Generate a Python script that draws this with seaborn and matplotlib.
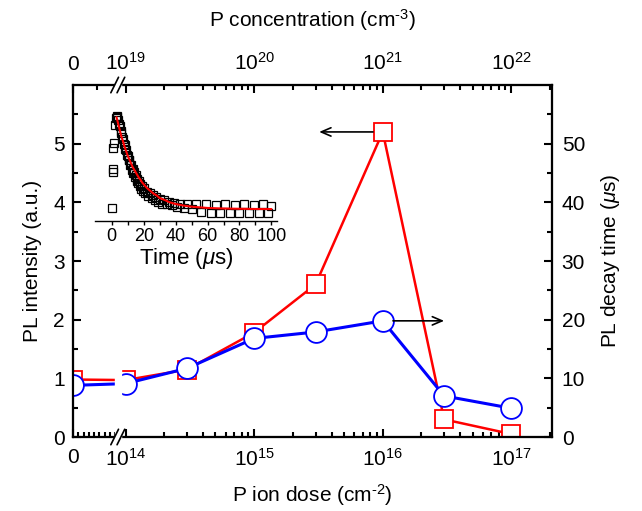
import matplotlib
matplotlib.use("Agg")
import matplotlib.pyplot as plt
import numpy as np
import pandas as pd
import seaborn as sns
from matplotlib.ticker import FixedLocator
from matplotlib.patches import Rectangle

# main chart data
dose = [0, 1e14, 3e14, 1e15, 3e15, 1e16, 3e16, 1e17]
pl_intensity = [0.98, 0.97, 1.15, 1.78, 2.60, 5.20, 0.30, 0.05]
decay_time = [8.8, 9.1, 11.7, 16.8, 17.9, 19.8, 7.0, 4.9]

dose_ticks = [0, 1e14, 1e15, 1e16, 1e17]
dose_labels = ["0", "$10^{14}$", "$10^{15}$", "$10^{16}$", "$10^{17}$"]
conc_ticks = [0, 1e19, 1e20, 1e21, 1e22]
conc_labels = ["0", "$10^{19}$", "$10^{20}$", "$10^{21}$", "$10^{22}$"]

# inset: PL decay trace (normalised) and fit
t_data = [0.0, 0.5, 0.7, 1.0, 1.3, 1.8, 2.5,
          3.0, 3.5, 4.0, 4.5, 5.0, 5.5, 6.0, 6.5, 7.0, 7.5, 8.0, 8.5, 9.0, 9.5,
          10.0, 10.5, 11.0, 11.5, 12.0, 12.5, 13.0, 13.5, 14.0, 14.5, 15.0, 15.5,
          16.0, 16.5, 17.0, 17.5, 18.0, 18.5, 19.0, 19.5, 20.0,
          21, 22, 23, 24, 25, 26, 27, 28, 29, 30,
          31.5, 33, 34.5, 36, 37.5, 39, 41, 43, 45, 47, 50, 53, 56, 59,
          62, 65, 68, 71, 74, 77, 80, 83, 86, 89, 92, 95, 98, 100]
pl_decay = [0.01, 0.40, 0.44, 0.67, 0.72, 0.91, 0.99,
            1.00, 1.01, 0.97, 0.93, 0.90, 0.85, 0.83, 0.78, 0.76, 0.71, 0.70, 0.65, 0.64, 0.59,
            0.58, 0.53, 0.53, 0.48, 0.48, 0.43, 0.44, 0.39, 0.40, 0.35, 0.37, 0.31,
            0.33, 0.28, 0.30, 0.25, 0.27, 0.22, 0.25, 0.20, 0.23,
            0.17, 0.19, 0.14, 0.17, 0.12, 0.15, 0.10, 0.13, 0.08, 0.11,
            0.06, 0.10, 0.05, 0.08, 0.04, 0.07, 0.02, 0.06, 0.01, 0.05, 0.00, 0.05, -0.03, 0.05,
            -0.04, 0.04, -0.04, 0.05, -0.04, 0.04, -0.04, 0.05, -0.04, 0.04, -0.04, 0.05, -0.04, 0.03]
t_fit = [3, 4, 5, 6, 7, 8, 9, 10, 11, 12, 13, 14, 15, 16, 17, 18, 19, 20,
         22, 24, 26, 28, 30, 33, 36, 40, 45, 50, 60, 70, 80, 90, 100]
pl_fit = [1.00, 0.93, 0.86, 0.79, 0.74, 0.68, 0.63, 0.58, 0.54, 0.50, 0.46, 0.43, 0.40,
          0.37, 0.34, 0.32, 0.29, 0.27, 0.23, 0.20, 0.17, 0.15, 0.12, 0.10, 0.075,
          0.055, 0.038, 0.026, 0.012, 0.006, 0.003, 0.001, 0.0]

sns.set_style("ticks")
plt.rcParams["font.family"] = ["Liberation Sans", "DejaVu Sans"]
plt.rcParams["mathtext.fontset"] = "custom"
plt.rcParams["mathtext.rm"] = "Liberation Sans"
plt.rcParams["mathtext.it"] = "Liberation Sans:italic"
plt.rcParams["mathtext.default"] = "regular"
plt.rcParams["axes.linewidth"] = 1.5
for key in ("text.color", "axes.labelcolor", "axes.edgecolor", "xtick.color", "ytick.color"):
    plt.rcParams[key] = "black"

fig = plt.figure(figsize=(6.42, 5.11), dpi=100)
ax = fig.add_axes([73 / 642, 1 - 437 / 511, 479 / 642, 352 / 511])
ax.set_xscale("symlog", linthresh=1e14, linscale=0.368)

sns.lineplot(x=dose, y=pl_intensity, ax=ax, color="red", lw=1.8, marker="s",
             ms=13, mfc="white", mec="red", mew=1.3)

ax2 = ax.twinx()
sns.lineplot(x=dose, y=decay_time, ax=ax2, color="blue", lw=2.2, marker="o",
             ms=15, mfc="white", mec="blue", mew=1.3)

ax.set_xlim(0, 2.07e17)
ax.set_ylim(0, 6)
ax2.set_ylim(0, 60)

ax.set_xticks(dose_ticks)
ax.set_xticklabels(dose_labels)
minor_dose = [i * 1e13 for i in range(1, 9)]
minor_dose += [k * 10.0 ** e for e in (14, 15, 16) for k in range(2, 10)] + [2e17]
ax.xaxis.set_minor_locator(FixedLocator(minor_dose))
ax.set_yticks([0, 1, 2, 3, 4, 5])
ax.yaxis.set_minor_locator(FixedLocator([0.5, 1.5, 2.5, 3.5, 4.5, 5.5]))
ax.tick_params(which="both", direction="in", width=1.5, labelsize=15, top=False, right=False)
ax.tick_params(which="major", length=6)
ax.tick_params(which="minor", length=3.5)
ax.tick_params(axis="x", pad=8)
ax.tick_params(axis="y", pad=6)

ax2.set_yticks([0, 10, 20, 30, 40, 50])
ax2.yaxis.set_minor_locator(FixedLocator([5, 15, 25, 35, 45, 55]))
ax2.tick_params(which="both", direction="in", width=1.5, labelsize=15, pad=7)
ax2.tick_params(which="major", length=6)
ax2.tick_params(which="minor", length=3.5)

# top axis: P concentration
ax3 = ax.twiny()
ax3.set_xscale("symlog", linthresh=1e19, linscale=0.368)
ax3.set_xlim(0, 2.07e22)
ax3.set_xticks(conc_ticks)
ax3.set_xticklabels(conc_labels)
minor_conc = [0.45e19] + [k * 10.0 ** e for e in (19, 20, 21) for k in range(2, 10)] + [2e22]
ax3.xaxis.set_minor_locator(FixedLocator(minor_conc))
ax3.tick_params(which="both", direction="in", width=1.5, labelsize=15, pad=8)
ax3.tick_params(which="major", length=6)
ax3.tick_params(which="minor", length=3.5)

# axis break
ax3.add_patch(Rectangle((0.087, -0.012), 0.013, 1.024, transform=ax3.transAxes,
                        color="white", clip_on=False, zorder=5))
for yb in (0, 1):
    for xb in (0.087, 0.100):
        ax3.plot([xb - 0.008, xb + 0.008], [yb - 0.022, yb + 0.022], color="black",
                 lw=1.2, transform=ax3.transAxes, clip_on=False, zorder=6)

# arrows pointing to the matching axis
ax.annotate("", xy=(3.2e15, pl_intensity[5]), xytext=(8.4e15, pl_intensity[5]),
            arrowprops=dict(arrowstyle="->,head_length=0.7,head_width=0.3",
                            color="black", lw=1.2, shrinkA=0, shrinkB=0))
ax2.annotate("", xy=(3.0e16, decay_time[5]), xytext=(1.2e16, decay_time[5]),
             arrowprops=dict(arrowstyle="->,head_length=0.7,head_width=0.3",
                             color="black", lw=1.2, shrinkA=0, shrinkB=0))

ax.set_xlabel(r"P ion dose (cm$^{\text{-}2}$)", fontsize=15, labelpad=9)
ax.set_ylabel("PL intensity (a.u.)", fontsize=15, labelpad=8)
ax2.set_ylabel(r"PL decay time ($\mathit{\mu}$s)", fontsize=15, labelpad=10)
ax3.set_xlabel(r"P concentration (cm$^{\text{-}3}$)", fontsize=15, labelpad=18)

# inset
ax_in = fig.add_axes([95 / 642, 1 - 221 / 511, 182 / 642, 113 / 511])
ax_in.set_zorder(10)
ax_in.patch.set_alpha(0)
sns.lineplot(x=t_data, y=pl_decay, ax=ax_in, estimator=None, sort=False,
             linestyle="none", marker="s", ms=5.5, mfc="none", mec="black", mew=0.9)
sns.lineplot(x=t_fit, y=pl_fit, ax=ax_in, color="red", lw=1.5)
ax_in.set_xlim(-10.5, 103.5)
ax_in.set_ylim(-0.13, 1.10)
ax_in.set_yticks([])
for side in ("left", "top", "right"):
    ax_in.spines[side].set_visible(False)
ax_in.spines["bottom"].set_linewidth(1.0)
ax_in.set_xticks([0, 20, 40, 60, 80, 100])
ax_in.xaxis.set_minor_locator(FixedLocator([10, 30, 50, 70, 90]))
ax_in.tick_params(which="both", direction="out", length=3, width=1, labelsize=13, pad=2)
ax_in.set_xlabel(r"Time ($\mathit{\mu}$s)", fontsize=16, labelpad=1)
ax_in.set_ylabel("")

fig.savefig("out.png", dpi=100)
